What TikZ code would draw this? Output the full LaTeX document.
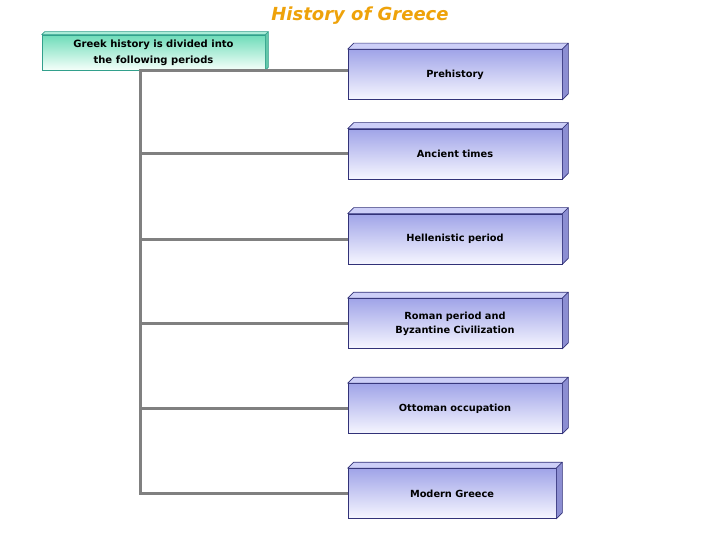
\documentclass[tikz,border=0pt]{standalone}
\usepackage{fontspec}
\setmainfont{DejaVu Sans}
\definecolor{titleor}{RGB}{238,162,10}
\definecolor{boxtop}{RGB}{160,164,232}
\definecolor{boxbot}{RGB}{246,246,255}
\definecolor{boxedge}{RGB}{50,50,120}
\definecolor{boxlid}{RGB}{205,207,248}
\definecolor{boxside}{RGB}{140,142,210}
\definecolor{tealtop}{RGB}{110,220,185}
\definecolor{tealbot}{RGB}{245,255,250}
\definecolor{tealedge}{RGB}{50,160,140}
\definecolor{teallid}{RGB}{170,235,215}
\definecolor{tealside}{RGB}{100,200,170}
\definecolor{linegray}{RGB}{128,128,128}
\newcommand{\mythreed}[5]{%
  \filldraw[draw=#5,line width=0.6pt,fill=#3,line join=round] (#1.north west) -- ([shift={(#2,-#2)}]#1.north west) -- ([shift={(#2,-#2)}]#1.north east) -- (#1.north east) -- cycle;
  \filldraw[draw=#5,line width=0.6pt,fill=#4,line join=round] (#1.north east) -- ([shift={(#2,-#2)}]#1.north east) -- ([shift={(#2,-#2)}]#1.south east) -- (#1.south east) -- cycle;}
\begin{document}
\begin{tikzpicture}[x=1pt,y=-1pt,
  period/.style={rectangle,draw=boxedge,line width=0.6pt,top color=boxtop,bottom color=boxbot,
    inner sep=0pt,minimum width=214pt,minimum height=50pt,align=center,font=\bfseries\fontsize{9.8}{14}\selectfont},
  intro/.style={rectangle,draw=tealedge,line width=0.6pt,top color=tealtop,bottom color=tealbot,
    inner sep=0pt,minimum width=223pt,minimum height=35pt,align=center,font=\bfseries\fontsize{10}{16}\selectfont},
  conn/.style={draw=linegray,line width=3pt}]
\useasboundingbox (0,0) rectangle (720,540);
\node[font=\bfseries\itshape\fontsize{18}{20}\selectfont,text=titleor] (title) at (360,16) {History of Greece};
\node[intro] (g) at (153.5,52.5) {Greek history is divided into\\the following periods};
\node[period] (p1) at (455,74.5) {Prehistory};
\node[period] (p2) at (455,154) {Ancient times};
\node[period] (p3) at (455,239) {Hellenistic period};
\node[period] (p4) at (455,323.5) {Roman period and\\Byzantine Civilization};
\node[period] (p5) at (455,408.5) {Ottoman occupation};
\node[period,minimum width=208pt] (p6) at (452,493.5) {Modern Greece};
\mythreed{g}{3}{teallid}{tealside}{tealedge}
\foreach \n in {p1,p2,p3,p4,p5,p6}{\mythreed{\n}{6}{boxlid}{boxside}{boxedge}}
\coordinate (t) at (140,71);
\draw[conn] (p1.west |- t) -- (t) |- (p6.west);
\foreach \n in {p2,p3,p4,p5}{\draw[conn] (t |- \n.west) -- (\n.west);}
\end{tikzpicture}
\end{document}
